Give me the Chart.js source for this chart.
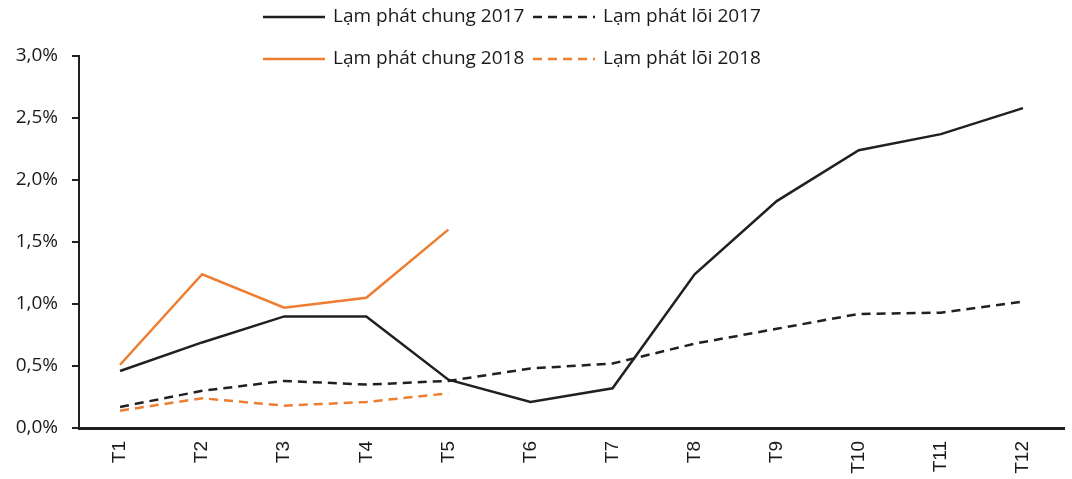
<!DOCTYPE html>
<html>
<head>
<meta charset="utf-8">
<script src="https://cdn.jsdelivr.net/npm/chart.js@4"></script>
<style>
  html, body { margin: 0; padding: 0; background: #fff; }
  #wrap { width: 1072px; height: 479px; position: relative; }
</style>
</head>
<body>
<div id="wrap"><canvas id="grafico"></canvas></div>
<script>
var thang = ['T1', 'T2', 'T3', 'T4', 'T5', 'T6', 'T7', 'T8', 'T9', 'T10', 'T11', 'T12'];
var chung2017 = [0.46, 0.69, 0.90, 0.90, 0.39, 0.21, 0.32, 1.24, 1.83, 2.24, 2.37, 2.58];
var loi2017 = [0.17, 0.30, 0.38, 0.35, 0.38, 0.48, 0.52, 0.68, 0.80, 0.92, 0.93, 1.02];
var chung2018 = [0.51, 1.24, 0.97, 1.05, 1.60];
var loi2018 = [0.14, 0.24, 0.18, 0.21, 0.28];

var DEN = '#231f20';
var CAM = '#ee7d31';

// legend 2 dong x 2 cot, ve tay tren canvas
var legendHaiDong = {
    id: 'legendHaiDong',
    afterDraw: function (chart) {
        var ctx = chart.ctx;
        var ds = chart.data.datasets;
        var cot = [263, 533];
        var dong = [17, 59];
        ctx.save();
        ctx.font = '19px "Open Sans"';
        ctx.textBaseline = 'middle';
        ctx.textAlign = 'left';
        for (var i = 0; i < ds.length; i++) {
            var x = cot[i % 2];
            var y = dong[Math.floor(i / 2)];
            ctx.beginPath();
            ctx.strokeStyle = ds[i].borderColor;
            ctx.lineWidth = 2.5;
            ctx.setLineDash(ds[i].borderDash || []);
            ctx.moveTo(x, y);
            ctx.lineTo(x + 62, y);
            ctx.stroke();
            ctx.setLineDash([]);
            ctx.fillStyle = '#1a1a1a';
            ctx.fillText(ds[i].label, x + 70, y);
        }
        ctx.restore();
    }
};

var ctx = document.getElementById('grafico');
var chart = new Chart(ctx, {
    type: 'line',
    data: {
        labels: thang,
        datasets: [{
            label: 'Lạm phát chung 2017',
            data: chung2017,
            borderColor: DEN,
            borderWidth: 2.5
        }, {
            label: 'Lạm phát lõi 2017',
            data: loi2017,
            borderColor: DEN,
            borderWidth: 2.5,
            borderDash: [9, 6]
        }, {
            label: 'Lạm phát chung 2018',
            data: chung2018,
            borderColor: CAM,
            borderWidth: 2.5
        }, {
            label: 'Lạm phát lõi 2018',
            data: loi2018,
            borderColor: CAM,
            borderWidth: 2.5,
            borderDash: [9, 6]
        }]
    },
    options: {
        responsive: true,
        maintainAspectRatio: false,
        animation: false,
        layout: { padding: { top: 56, right: 8, left: 0, bottom: 0 } },
        elements: {
            point: { radius: 0 },
            line: { tension: 0, fill: false }
        },
        plugins: {
            legend: { display: false },
            tooltip: { enabled: false }
        },
        scales: {
            x: {
                offset: true,
                grid: { display: false, drawTicks: false },
                border: { color: DEN, width: 3 },
                ticks: {
                    maxRotation: 90,
                    minRotation: 90,
                    padding: 13,
                    color: '#1a1a1a',
                    font: { family: '"Liberation Sans", Arial, sans-serif', size: 19 }
                },
                afterFit: function (s) { s.height = 51; }
            },
            y: {
                min: 0,
                max: 3,
                grid: { display: true, drawOnChartArea: false, drawTicks: true, tickLength: 7, color: DEN, lineWidth: 2 },
                border: { color: DEN, width: 2 },
                ticks: {
                    stepSize: 0.5,
                    padding: 14,
                    color: '#1a1a1a',
                    font: { family: '"Open Sans", sans-serif', size: 19 },
                    callback: function (v) { return v.toFixed(1).replace('.', ',') + '%'; }
                },
                afterFit: function (s) { s.width = 79; }
            }
        }
    },
    plugins: [legendHaiDong]
});
</script>
</body>
</html>
